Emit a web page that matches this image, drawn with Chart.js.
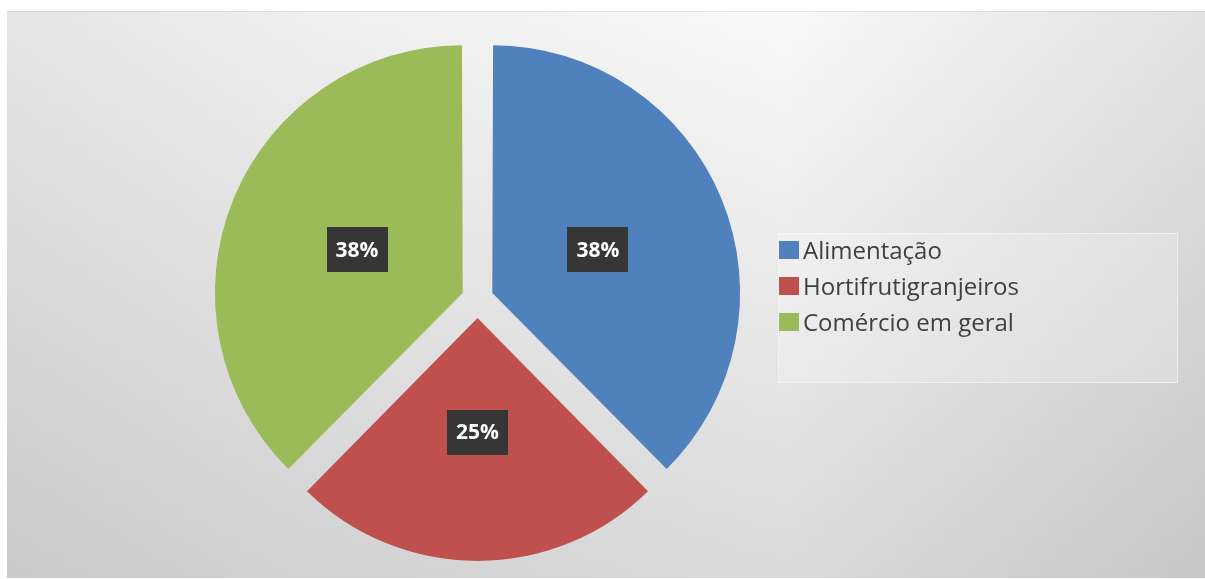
<!DOCTYPE html>
<html>
<head>
<meta charset="utf-8">
<title>Pie</title>
<script src="https://cdn.jsdelivr.net/npm/chart.js@4.4.1/dist/chart.umd.min.js"></script>
<style>
    html, body { margin: 0; padding: 0; background: #ffffff; }
    #wrap { width: 1205px; height: 579px; }
</style>
</head>
<body>
<div id="wrap"><canvas id="pieChart" width="1205" height="579"></canvas></div>
<script>
// Values
const categories = ['Alimentação', 'Hortifrutigranjeiros', 'Comércio em geral'];
const percentValues = [38, 25, 38];
const sliceColors = ['#4f81bd', '#c0504d', '#9bbb59'];
const sliceOffsets = [64, 76, 64];

// Panel + gradient behind everything
const panelBackground = {
    id: 'panelBackground',
    beforeDraw(chart) {
        const ctx = chart.ctx;
        const x0 = 7, y0 = 11;
        const w = chart.width - x0, h = 578 - y0;
        ctx.save();
        ctx.fillStyle = '#ffffff';
        ctx.fillRect(0, 0, chart.width, chart.height);

        const hg = ctx.createLinearGradient(x0, 0, chart.width, 0);
        hg.addColorStop(0, '#e5e5e5');
        hg.addColorStop(0.25, '#efefef');
        hg.addColorStop(0.65, '#f8f8f8');
        hg.addColorStop(1, '#e2e2e2');
        ctx.fillStyle = hg;
        ctx.fillRect(x0, y0, w, h);

        const vg = ctx.createLinearGradient(0, y0, 0, y0 + h);
        vg.addColorStop(0, 'rgba(0,0,0,0)');
        vg.addColorStop(1, 'rgba(0,0,0,0.12)');
        ctx.fillStyle = vg;
        ctx.fillRect(x0, y0, w, h);

        // faint edge on top of the panel
        ctx.fillStyle = 'rgba(0,0,0,0.07)';
        ctx.fillRect(x0, y0, w, 1);

        // legend box
        ctx.fillStyle = 'rgba(255,255,255,0.22)';
        ctx.fillRect(778, 233, 400, 150);
        ctx.strokeStyle = 'rgba(255,255,255,0.45)';
        ctx.lineWidth = 1;
        ctx.strokeRect(778.5, 233.5, 399, 149);
        ctx.restore();
    }
};

// Dark percentage boxes on each slice
const sliceLabels = {
    id: 'sliceLabels',
    afterDatasetsDraw(chart) {
        const ctx = chart.ctx;
        const meta = chart.getDatasetMeta(0);
        const values = chart.data.datasets[0].data;
        ctx.save();
        ctx.font = 'bold 21px "Open Sans"';
        ctx.textAlign = 'center';
        ctx.textBaseline = 'middle';
        meta.data.forEach((arc, i) => {
            const p = arc.getProps(['x', 'y', 'startAngle', 'endAngle', 'outerRadius'], true);
            const mid = (p.startAngle + p.endAngle) / 2;
            const shift = (arc.options.offset || 0) / 4;
            const dist = shift + p.outerRadius * 0.47;
            const cx = p.x + Math.cos(mid) * dist;
            const cy = p.y + Math.sin(mid) * dist;
            ctx.fillStyle = '#363636';
            ctx.fillRect(Math.round(cx - 30.5), Math.round(cy - 22.5), 61, 45);
            ctx.fillStyle = '#ffffff';
            ctx.fillText(values[i] + '%', cx, cy + 1);
        });
        ctx.restore();
    }
};

// Legend on the right, square + label
const sideLegend = {
    id: 'sideLegend',
    afterDraw(chart) {
        const ctx = chart.ctx;
        const left = 779, top = 241, pitch = 36;
        ctx.save();
        ctx.font = '24px "Open Sans"';
        ctx.textAlign = 'left';
        ctx.textBaseline = 'alphabetic';
        chart.data.labels.forEach((label, i) => {
            const y = top + i * pitch;
            ctx.fillStyle = chart.data.datasets[0].backgroundColor[i];
            ctx.fillRect(left, y, 20, 18);
            ctx.fillStyle = '#404040';
            ctx.fillText(label, left + 24, y + 18);
        });
        ctx.restore();
    }
};

const ctx = document.getElementById('pieChart').getContext('2d');
const pieChart = new Chart(ctx, {
    type: 'pie',
    data: {
        labels: categories,
        datasets: [{
            data: percentValues,
            backgroundColor: sliceColors,
            offset: sliceOffsets,
            hoverOffset: 0,
            borderWidth: 0
        }]
    },
    options: {
        responsive: false,
        animation: false,
        devicePixelRatio: 1,
        radius: 243,
        layout: {
            padding: { left: 20, right: 270, top: 19, bottom: 0 }
        },
        plugins: {
            legend: { display: false },
            tooltip: { enabled: false }
        }
    },
    plugins: [panelBackground, sliceLabels, sideLegend]
});
</script>
</body>
</html>
